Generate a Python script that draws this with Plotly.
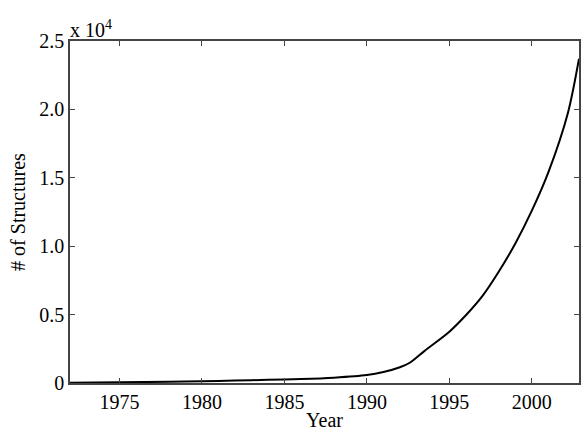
import plotly.graph_objects as go

years = [1972, 1975, 1978, 1980, 1982, 1984, 1986, 1988, 1990, 1991, 1992, 1992.6,
         1993.5, 1995, 1996, 1997, 1998, 1999, 2000, 2001, 2002.2, 2002.86]
structures = [20, 50, 90, 130, 180, 230, 290, 390, 580, 800, 1150, 1480,
              2350, 3750, 4950, 6350, 8150, 10200, 12600, 15400, 19800, 23700]

x_ticks = [1975, 1980, 1985, 1990, 1995, 2000]
y_ticks = [0, 5000, 10000, 15000, 20000, 25000]
y_tick_labels = ["0", "0.5", "1.0", "1.5", "2.0", "2.5"]

font = dict(family="Liberation Serif, Times New Roman, serif", size=20, color="black")
axis_col = "#444444"

fig = go.Figure()
fig.add_trace(go.Scatter(x=years, y=structures, mode="lines",
                         line=dict(color="black", width=2, shape="spline", smoothing=0.8),
                         showlegend=False, hoverinfo="skip"))

fig.update_layout(
    width=581, height=431,
    margin=dict(l=70, r=0, t=41, b=48),
    paper_bgcolor="white", plot_bgcolor="white",
    font=font,
    xaxis=dict(range=[1972, 2002.86], tickvals=x_ticks, ticks="inside", ticklen=5,
               tickcolor=axis_col, showline=True, linecolor=axis_col, linewidth=1.5,
               mirror="ticks", showgrid=False, zeroline=False,
               title=dict(text="Year", standoff=3, font=font)),
    yaxis=dict(range=[0, 25000], tickvals=y_ticks, ticktext=y_tick_labels,
               ticks="inside", ticklen=5, tickcolor=axis_col, showline=True,
               linecolor=axis_col, linewidth=1.5, mirror="ticks", showgrid=False,
               zeroline=False,
               title=dict(text="# of Structures", standoff=8, font=font)),
    annotations=[dict(text="x 10<sup>4</sup>", xref="paper", yref="paper", x=0, y=1,
                      xanchor="left", yanchor="bottom", showarrow=False, font=font,
                      xshift=-2, yshift=-2)],
)

fig.write_html("out.html")
